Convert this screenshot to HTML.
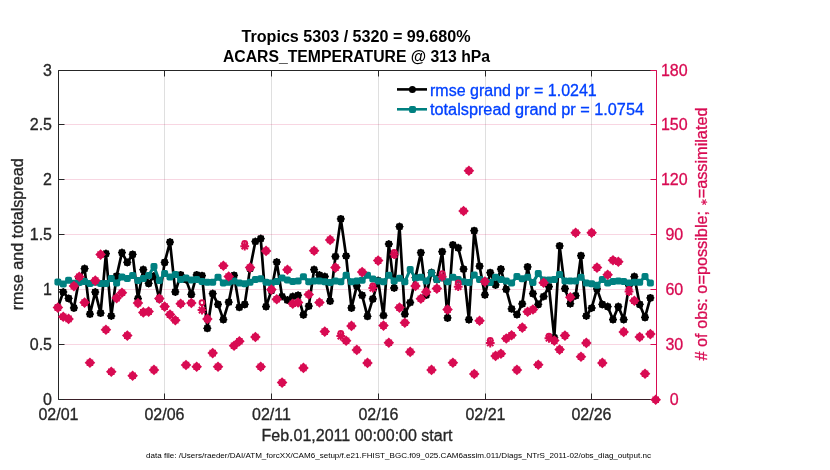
<!DOCTYPE html><html><head><meta charset="utf-8"><style>
html,body{margin:0;padding:0;background:#fff;width:830px;height:470px;overflow:hidden}
svg{display:block;will-change:transform}
text{font-family:"Liberation Sans",sans-serif}
</style></head><body>
<svg width="830" height="470" viewBox="0 0 830 470">
<rect width="830" height="470" fill="#fff"/>
<line x1="164.50" y1="70.5" x2="164.50" y2="399.5" stroke="rgba(38,38,38,0.15)" stroke-width="1"/><line x1="271.50" y1="70.5" x2="271.50" y2="399.5" stroke="rgba(38,38,38,0.15)" stroke-width="1"/><line x1="378.50" y1="70.5" x2="378.50" y2="399.5" stroke="rgba(38,38,38,0.15)" stroke-width="1"/><line x1="485.50" y1="70.5" x2="485.50" y2="399.5" stroke="rgba(38,38,38,0.15)" stroke-width="1"/><line x1="591.50" y1="70.5" x2="591.50" y2="399.5" stroke="rgba(38,38,38,0.15)" stroke-width="1"/><line x1="58.5" y1="344.50" x2="656.5" y2="344.50" stroke="rgba(216,11,82,0.17)" stroke-width="1"/><line x1="58.5" y1="289.50" x2="656.5" y2="289.50" stroke="rgba(216,11,82,0.17)" stroke-width="1"/><line x1="58.5" y1="234.50" x2="656.5" y2="234.50" stroke="rgba(216,11,82,0.17)" stroke-width="1"/><line x1="58.5" y1="179.50" x2="656.5" y2="179.50" stroke="rgba(216,11,82,0.17)" stroke-width="1"/><line x1="58.5" y1="124.50" x2="656.5" y2="124.50" stroke="rgba(216,11,82,0.17)" stroke-width="1"/>
<path d="M58.5 399.5 V70.5 H656.5" fill="none" stroke="#262626" stroke-width="1"/>
<line x1="58.5" y1="399.5" x2="656.5" y2="399.5" stroke="#3a1f28" stroke-width="1"/>
<line x1="656.5" y1="70.5" x2="656.5" y2="399.5" stroke="#d80b52" stroke-width="1"/>
<line x1="58.5" y1="399.50" x2="64.5" y2="399.50" stroke="#262626" stroke-width="1"/><line x1="650.5" y1="399.50" x2="656.5" y2="399.50" stroke="#d80b52" stroke-width="1"/><line x1="58.5" y1="344.50" x2="64.5" y2="344.50" stroke="#262626" stroke-width="1"/><line x1="650.5" y1="344.50" x2="656.5" y2="344.50" stroke="#d80b52" stroke-width="1"/><line x1="58.5" y1="289.50" x2="64.5" y2="289.50" stroke="#262626" stroke-width="1"/><line x1="650.5" y1="289.50" x2="656.5" y2="289.50" stroke="#d80b52" stroke-width="1"/><line x1="58.5" y1="234.50" x2="64.5" y2="234.50" stroke="#262626" stroke-width="1"/><line x1="650.5" y1="234.50" x2="656.5" y2="234.50" stroke="#d80b52" stroke-width="1"/><line x1="58.5" y1="179.50" x2="64.5" y2="179.50" stroke="#262626" stroke-width="1"/><line x1="650.5" y1="179.50" x2="656.5" y2="179.50" stroke="#d80b52" stroke-width="1"/><line x1="58.5" y1="124.50" x2="64.5" y2="124.50" stroke="#262626" stroke-width="1"/><line x1="650.5" y1="124.50" x2="656.5" y2="124.50" stroke="#d80b52" stroke-width="1"/><line x1="58.5" y1="70.50" x2="64.5" y2="70.50" stroke="#262626" stroke-width="1"/><line x1="650.5" y1="70.50" x2="656.5" y2="70.50" stroke="#d80b52" stroke-width="1"/><line x1="58.50" y1="399.5" x2="58.50" y2="393.5" stroke="#262626" stroke-width="1"/><line x1="58.50" y1="70.5" x2="58.50" y2="76.5" stroke="#262626" stroke-width="1"/><line x1="164.50" y1="399.5" x2="164.50" y2="393.5" stroke="#262626" stroke-width="1"/><line x1="164.50" y1="70.5" x2="164.50" y2="76.5" stroke="#262626" stroke-width="1"/><line x1="271.50" y1="399.5" x2="271.50" y2="393.5" stroke="#262626" stroke-width="1"/><line x1="271.50" y1="70.5" x2="271.50" y2="76.5" stroke="#262626" stroke-width="1"/><line x1="378.50" y1="399.5" x2="378.50" y2="393.5" stroke="#262626" stroke-width="1"/><line x1="378.50" y1="70.5" x2="378.50" y2="76.5" stroke="#262626" stroke-width="1"/><line x1="485.50" y1="399.5" x2="485.50" y2="393.5" stroke="#262626" stroke-width="1"/><line x1="485.50" y1="70.5" x2="485.50" y2="76.5" stroke="#262626" stroke-width="1"/><line x1="591.50" y1="399.5" x2="591.50" y2="393.5" stroke="#262626" stroke-width="1"/><line x1="591.50" y1="70.5" x2="591.50" y2="76.5" stroke="#262626" stroke-width="1"/>
<polyline points="57.90,307.60 63.24,292.00 68.58,298.40 73.91,307.90 79.25,278.60 84.59,268.60 89.93,314.10 95.26,292.10 100.60,313.10 105.94,253.60 111.28,316.00 116.61,276.10 121.95,252.60 127.29,262.40 132.62,254.40 137.96,298.60 143.30,269.60 148.64,283.40 153.97,276.10 159.31,299.10 164.65,262.40 169.99,242.10 175.33,291.90 180.66,274.90 186.00,279.60 191.34,294.40 196.68,274.90 202.01,275.70 207.35,328.30 212.69,293.60 218.03,304.40 223.36,319.60 228.70,302.20 234.04,275.40 239.38,307.30 244.71,304.40 250.05,268.60 255.39,241.50 260.73,238.60 266.06,306.60 271.40,290.60 276.74,262.00 282.07,296.50 287.41,300.10 292.75,296.50 298.09,295.30 303.43,314.80 308.76,306.10 314.10,269.60 319.44,275.00 324.77,276.50 330.11,301.10 335.45,256.50 340.79,218.90 346.12,256.00 351.46,307.90 356.80,285.90 362.14,295.30 367.48,316.30 372.81,298.90 378.15,280.60 383.49,315.50 388.82,244.00 394.16,288.00 399.50,226.60 404.84,314.10 410.18,302.50 415.51,277.60 420.85,252.70 426.19,295.10 431.52,272.60 436.86,279.60 442.20,251.70 447.54,317.90 452.88,244.90 458.21,247.80 463.55,269.10 468.89,319.70 474.23,230.70 479.56,266.20 484.90,294.80 490.24,272.70 495.57,284.90 500.91,269.10 506.25,289.30 511.59,308.80 516.93,314.60 522.26,303.80 527.60,266.90 532.94,293.60 538.28,304.40 543.61,296.50 548.95,286.60 554.29,337.70 559.62,245.90 564.96,288.60 570.30,303.70 575.64,295.70 580.98,255.70 586.31,316.00 591.65,308.00 596.99,288.90 602.33,304.40 607.66,306.60 613.00,319.60 618.34,306.60 623.68,319.60 629.01,285.60 634.35,276.60 639.69,304.40 645.02,317.40 650.36,297.90" fill="none" stroke="#000" stroke-width="2.7" stroke-linejoin="round"/>
<g fill="#000"><circle cx="57.90" cy="307.60" r="3.6"/><circle cx="63.24" cy="292.00" r="3.6"/><circle cx="68.58" cy="298.40" r="3.6"/><circle cx="73.91" cy="307.90" r="3.6"/><circle cx="79.25" cy="278.60" r="3.6"/><circle cx="84.59" cy="268.60" r="3.6"/><circle cx="89.93" cy="314.10" r="3.6"/><circle cx="95.26" cy="292.10" r="3.6"/><circle cx="100.60" cy="313.10" r="3.6"/><circle cx="105.94" cy="253.60" r="3.6"/><circle cx="111.28" cy="316.00" r="3.6"/><circle cx="116.61" cy="276.10" r="3.6"/><circle cx="121.95" cy="252.60" r="3.6"/><circle cx="127.29" cy="262.40" r="3.6"/><circle cx="132.62" cy="254.40" r="3.6"/><circle cx="137.96" cy="298.60" r="3.6"/><circle cx="143.30" cy="269.60" r="3.6"/><circle cx="148.64" cy="283.40" r="3.6"/><circle cx="153.97" cy="276.10" r="3.6"/><circle cx="159.31" cy="299.10" r="3.6"/><circle cx="164.65" cy="262.40" r="3.6"/><circle cx="169.99" cy="242.10" r="3.6"/><circle cx="175.33" cy="291.90" r="3.6"/><circle cx="180.66" cy="274.90" r="3.6"/><circle cx="186.00" cy="279.60" r="3.6"/><circle cx="191.34" cy="294.40" r="3.6"/><circle cx="196.68" cy="274.90" r="3.6"/><circle cx="202.01" cy="275.70" r="3.6"/><circle cx="207.35" cy="328.30" r="3.6"/><circle cx="212.69" cy="293.60" r="3.6"/><circle cx="218.03" cy="304.40" r="3.6"/><circle cx="223.36" cy="319.60" r="3.6"/><circle cx="228.70" cy="302.20" r="3.6"/><circle cx="234.04" cy="275.40" r="3.6"/><circle cx="239.38" cy="307.30" r="3.6"/><circle cx="244.71" cy="304.40" r="3.6"/><circle cx="250.05" cy="268.60" r="3.6"/><circle cx="255.39" cy="241.50" r="3.6"/><circle cx="260.73" cy="238.60" r="3.6"/><circle cx="266.06" cy="306.60" r="3.6"/><circle cx="271.40" cy="290.60" r="3.6"/><circle cx="276.74" cy="262.00" r="3.6"/><circle cx="282.07" cy="296.50" r="3.6"/><circle cx="287.41" cy="300.10" r="3.6"/><circle cx="292.75" cy="296.50" r="3.6"/><circle cx="298.09" cy="295.30" r="3.6"/><circle cx="303.43" cy="314.80" r="3.6"/><circle cx="308.76" cy="306.10" r="3.6"/><circle cx="314.10" cy="269.60" r="3.6"/><circle cx="319.44" cy="275.00" r="3.6"/><circle cx="324.77" cy="276.50" r="3.6"/><circle cx="330.11" cy="301.10" r="3.6"/><circle cx="335.45" cy="256.50" r="3.6"/><circle cx="340.79" cy="218.90" r="3.6"/><circle cx="346.12" cy="256.00" r="3.6"/><circle cx="351.46" cy="307.90" r="3.6"/><circle cx="356.80" cy="285.90" r="3.6"/><circle cx="362.14" cy="295.30" r="3.6"/><circle cx="367.48" cy="316.30" r="3.6"/><circle cx="372.81" cy="298.90" r="3.6"/><circle cx="378.15" cy="280.60" r="3.6"/><circle cx="383.49" cy="315.50" r="3.6"/><circle cx="388.82" cy="244.00" r="3.6"/><circle cx="394.16" cy="288.00" r="3.6"/><circle cx="399.50" cy="226.60" r="3.6"/><circle cx="404.84" cy="314.10" r="3.6"/><circle cx="410.18" cy="302.50" r="3.6"/><circle cx="415.51" cy="277.60" r="3.6"/><circle cx="420.85" cy="252.70" r="3.6"/><circle cx="426.19" cy="295.10" r="3.6"/><circle cx="431.52" cy="272.60" r="3.6"/><circle cx="436.86" cy="279.60" r="3.6"/><circle cx="442.20" cy="251.70" r="3.6"/><circle cx="447.54" cy="317.90" r="3.6"/><circle cx="452.88" cy="244.90" r="3.6"/><circle cx="458.21" cy="247.80" r="3.6"/><circle cx="463.55" cy="269.10" r="3.6"/><circle cx="468.89" cy="319.70" r="3.6"/><circle cx="474.23" cy="230.70" r="3.6"/><circle cx="479.56" cy="266.20" r="3.6"/><circle cx="484.90" cy="294.80" r="3.6"/><circle cx="490.24" cy="272.70" r="3.6"/><circle cx="495.57" cy="284.90" r="3.6"/><circle cx="500.91" cy="269.10" r="3.6"/><circle cx="506.25" cy="289.30" r="3.6"/><circle cx="511.59" cy="308.80" r="3.6"/><circle cx="516.93" cy="314.60" r="3.6"/><circle cx="522.26" cy="303.80" r="3.6"/><circle cx="527.60" cy="266.90" r="3.6"/><circle cx="532.94" cy="293.60" r="3.6"/><circle cx="538.28" cy="304.40" r="3.6"/><circle cx="543.61" cy="296.50" r="3.6"/><circle cx="548.95" cy="286.60" r="3.6"/><circle cx="554.29" cy="337.70" r="3.6"/><circle cx="559.62" cy="245.90" r="3.6"/><circle cx="564.96" cy="288.60" r="3.6"/><circle cx="570.30" cy="303.70" r="3.6"/><circle cx="575.64" cy="295.70" r="3.6"/><circle cx="580.98" cy="255.70" r="3.6"/><circle cx="586.31" cy="316.00" r="3.6"/><circle cx="591.65" cy="308.00" r="3.6"/><circle cx="596.99" cy="288.90" r="3.6"/><circle cx="602.33" cy="304.40" r="3.6"/><circle cx="607.66" cy="306.60" r="3.6"/><circle cx="613.00" cy="319.60" r="3.6"/><circle cx="618.34" cy="306.60" r="3.6"/><circle cx="623.68" cy="319.60" r="3.6"/><circle cx="629.01" cy="285.60" r="3.6"/><circle cx="634.35" cy="276.60" r="3.6"/><circle cx="639.69" cy="304.40" r="3.6"/><circle cx="645.02" cy="317.40" r="3.6"/><circle cx="650.36" cy="297.90" r="3.6"/></g>
<path fill="none" stroke="#000" stroke-width="1.3" d="M53.90 307.60H61.90M57.90 303.60V311.60M55.00 304.70L60.80 310.50M55.00 310.50L60.80 304.70M59.24 292.00H67.24M63.24 288.00V296.00M60.34 289.10L66.14 294.90M60.34 294.90L66.14 289.10M64.58 298.40H72.58M68.58 294.40V302.40M65.67 295.50L71.48 301.30M65.67 301.30L71.48 295.50M69.91 307.90H77.91M73.91 303.90V311.90M71.01 305.00L76.81 310.80M71.01 310.80L76.81 305.00M75.25 278.60H83.25M79.25 274.60V282.60M76.35 275.70L82.15 281.50M76.35 281.50L82.15 275.70M80.59 268.60H88.59M84.59 264.60V272.60M81.69 265.70L87.49 271.50M81.69 271.50L87.49 265.70M85.93 314.10H93.93M89.93 310.10V318.10M87.03 311.20L92.83 317.00M87.03 317.00L92.83 311.20M91.26 292.10H99.26M95.26 288.10V296.10M92.36 289.20L98.16 295.00M92.36 295.00L98.16 289.20M96.60 313.10H104.60M100.60 309.10V317.10M97.70 310.20L103.50 316.00M97.70 316.00L103.50 310.20M101.94 253.60H109.94M105.94 249.60V257.60M103.04 250.70L108.84 256.50M103.04 256.50L108.84 250.70M107.28 316.00H115.28M111.28 312.00V320.00M108.38 313.10L114.18 318.90M108.38 318.90L114.18 313.10M112.61 276.10H120.61M116.61 272.10V280.10M113.71 273.20L119.51 279.00M113.71 279.00L119.51 273.20M117.95 252.60H125.95M121.95 248.60V256.60M119.05 249.70L124.85 255.50M119.05 255.50L124.85 249.70M123.29 262.40H131.29M127.29 258.40V266.40M124.39 259.50L130.19 265.30M124.39 265.30L130.19 259.50M128.62 254.40H136.62M132.62 250.40V258.40M129.72 251.50L135.53 257.30M129.72 257.30L135.53 251.50M133.96 298.60H141.96M137.96 294.60V302.60M135.06 295.70L140.86 301.50M135.06 301.50L140.86 295.70M139.30 269.60H147.30M143.30 265.60V273.60M140.40 266.70L146.20 272.50M140.40 272.50L146.20 266.70M144.64 283.40H152.64M148.64 279.40V287.40M145.74 280.50L151.54 286.30M145.74 286.30L151.54 280.50M149.97 276.10H157.97M153.97 272.10V280.10M151.07 273.20L156.88 279.00M151.07 279.00L156.88 273.20M155.31 299.10H163.31M159.31 295.10V303.10M156.41 296.20L162.21 302.00M156.41 302.00L162.21 296.20M160.65 262.40H168.65M164.65 258.40V266.40M161.75 259.50L167.55 265.30M161.75 265.30L167.55 259.50M165.99 242.10H173.99M169.99 238.10V246.10M167.09 239.20L172.89 245.00M167.09 245.00L172.89 239.20M171.33 291.90H179.33M175.33 287.90V295.90M172.43 289.00L178.23 294.80M172.43 294.80L178.23 289.00M176.66 274.90H184.66M180.66 270.90V278.90M177.76 272.00L183.56 277.80M177.76 277.80L183.56 272.00M182.00 279.60H190.00M186.00 275.60V283.60M183.10 276.70L188.90 282.50M183.10 282.50L188.90 276.70M187.34 294.40H195.34M191.34 290.40V298.40M188.44 291.50L194.24 297.30M188.44 297.30L194.24 291.50M192.68 274.90H200.68M196.68 270.90V278.90M193.78 272.00L199.58 277.80M193.78 277.80L199.58 272.00M198.01 275.70H206.01M202.01 271.70V279.70M199.11 272.80L204.91 278.60M199.11 278.60L204.91 272.80M203.35 328.30H211.35M207.35 324.30V332.30M204.45 325.40L210.25 331.20M204.45 331.20L210.25 325.40M208.69 293.60H216.69M212.69 289.60V297.60M209.79 290.70L215.59 296.50M209.79 296.50L215.59 290.70M214.03 304.40H222.03M218.03 300.40V308.40M215.12 301.50L220.93 307.30M215.12 307.30L220.93 301.50M219.36 319.60H227.36M223.36 315.60V323.60M220.46 316.70L226.26 322.50M220.46 322.50L226.26 316.70M224.70 302.20H232.70M228.70 298.20V306.20M225.80 299.30L231.60 305.10M225.80 305.10L231.60 299.30M230.04 275.40H238.04M234.04 271.40V279.40M231.14 272.50L236.94 278.30M231.14 278.30L236.94 272.50M235.38 307.30H243.38M239.38 303.30V311.30M236.48 304.40L242.28 310.20M236.48 310.20L242.28 304.40M240.71 304.40H248.71M244.71 300.40V308.40M241.81 301.50L247.61 307.30M241.81 307.30L247.61 301.50M246.05 268.60H254.05M250.05 264.60V272.60M247.15 265.70L252.95 271.50M247.15 271.50L252.95 265.70M251.39 241.50H259.39M255.39 237.50V245.50M252.49 238.60L258.29 244.40M252.49 244.40L258.29 238.60M256.73 238.60H264.73M260.73 234.60V242.60M257.83 235.70L263.62 241.50M257.83 241.50L263.62 235.70M262.06 306.60H270.06M266.06 302.60V310.60M263.16 303.70L268.96 309.50M263.16 309.50L268.96 303.70M267.40 290.60H275.40M271.40 286.60V294.60M268.50 287.70L274.30 293.50M268.50 293.50L274.30 287.70M272.74 262.00H280.74M276.74 258.00V266.00M273.84 259.10L279.64 264.90M273.84 264.90L279.64 259.10M278.07 296.50H286.07M282.07 292.50V300.50M279.18 293.60L284.97 299.40M279.18 299.40L284.97 293.60M283.41 300.10H291.41M287.41 296.10V304.10M284.51 297.20L290.31 303.00M284.51 303.00L290.31 297.20M288.75 296.50H296.75M292.75 292.50V300.50M289.85 293.60L295.65 299.40M289.85 299.40L295.65 293.60M294.09 295.30H302.09M298.09 291.30V299.30M295.19 292.40L300.99 298.20M295.19 298.20L300.99 292.40M299.43 314.80H307.43M303.43 310.80V318.80M300.53 311.90L306.32 317.70M300.53 317.70L306.32 311.90M304.76 306.10H312.76M308.76 302.10V310.10M305.86 303.20L311.66 309.00M305.86 309.00L311.66 303.20M310.10 269.60H318.10M314.10 265.60V273.60M311.20 266.70L317.00 272.50M311.20 272.50L317.00 266.70M315.44 275.00H323.44M319.44 271.00V279.00M316.54 272.10L322.34 277.90M316.54 277.90L322.34 272.10M320.77 276.50H328.77M324.77 272.50V280.50M321.88 273.60L327.67 279.40M321.88 279.40L327.67 273.60M326.11 301.10H334.11M330.11 297.10V305.10M327.21 298.20L333.01 304.00M327.21 304.00L333.01 298.20M331.45 256.50H339.45M335.45 252.50V260.50M332.55 253.60L338.35 259.40M332.55 259.40L338.35 253.60M336.79 218.90H344.79M340.79 214.90V222.90M337.89 216.00L343.69 221.80M337.89 221.80L343.69 216.00M342.12 256.00H350.12M346.12 252.00V260.00M343.23 253.10L349.02 258.90M343.23 258.90L349.02 253.10M347.46 307.90H355.46M351.46 303.90V311.90M348.56 305.00L354.36 310.80M348.56 310.80L354.36 305.00M352.80 285.90H360.80M356.80 281.90V289.90M353.90 283.00L359.70 288.80M353.90 288.80L359.70 283.00M358.14 295.30H366.14M362.14 291.30V299.30M359.24 292.40L365.04 298.20M359.24 298.20L365.04 292.40M363.48 316.30H371.48M367.48 312.30V320.30M364.58 313.40L370.38 319.20M364.58 319.20L370.38 313.40M368.81 298.90H376.81M372.81 294.90V302.90M369.91 296.00L375.71 301.80M369.91 301.80L375.71 296.00M374.15 280.60H382.15M378.15 276.60V284.60M375.25 277.70L381.05 283.50M375.25 283.50L381.05 277.70M379.49 315.50H387.49M383.49 311.50V319.50M380.59 312.60L386.39 318.40M380.59 318.40L386.39 312.60M384.82 244.00H392.82M388.82 240.00V248.00M385.93 241.10L391.72 246.90M385.93 246.90L391.72 241.10M390.16 288.00H398.16M394.16 284.00V292.00M391.26 285.10L397.06 290.90M391.26 290.90L397.06 285.10M395.50 226.60H403.50M399.50 222.60V230.60M396.60 223.70L402.40 229.50M396.60 229.50L402.40 223.70M400.84 314.10H408.84M404.84 310.10V318.10M401.94 311.20L407.74 317.00M401.94 317.00L407.74 311.20M406.18 302.50H414.18M410.18 298.50V306.50M407.28 299.60L413.07 305.40M407.28 305.40L413.07 299.60M411.51 277.60H419.51M415.51 273.60V281.60M412.61 274.70L418.41 280.50M412.61 280.50L418.41 274.70M416.85 252.70H424.85M420.85 248.70V256.70M417.95 249.80L423.75 255.60M417.95 255.60L423.75 249.80M422.19 295.10H430.19M426.19 291.10V299.10M423.29 292.20L429.09 298.00M423.29 298.00L429.09 292.20M427.52 272.60H435.52M431.52 268.60V276.60M428.62 269.70L434.42 275.50M428.62 275.50L434.42 269.70M432.86 279.60H440.86M436.86 275.60V283.60M433.96 276.70L439.76 282.50M433.96 282.50L439.76 276.70M438.20 251.70H446.20M442.20 247.70V255.70M439.30 248.80L445.10 254.60M439.30 254.60L445.10 248.80M443.54 317.90H451.54M447.54 313.90V321.90M444.64 315.00L450.44 320.80M444.64 320.80L450.44 315.00M448.88 244.90H456.88M452.88 240.90V248.90M449.98 242.00L455.77 247.80M449.98 247.80L455.77 242.00M454.21 247.80H462.21M458.21 243.80V251.80M455.31 244.90L461.11 250.70M455.31 250.70L461.11 244.90M459.55 269.10H467.55M463.55 265.10V273.10M460.65 266.20L466.45 272.00M460.65 272.00L466.45 266.20M464.89 319.70H472.89M468.89 315.70V323.70M465.99 316.80L471.79 322.60M465.99 322.60L471.79 316.80M470.23 230.70H478.23M474.23 226.70V234.70M471.33 227.80L477.12 233.60M471.33 233.60L477.12 227.80M475.56 266.20H483.56M479.56 262.20V270.20M476.66 263.30L482.46 269.10M476.66 269.10L482.46 263.30M480.90 294.80H488.90M484.90 290.80V298.80M482.00 291.90L487.80 297.70M482.00 297.70L487.80 291.90M486.24 272.70H494.24M490.24 268.70V276.70M487.34 269.80L493.14 275.60M487.34 275.60L493.14 269.80M491.57 284.90H499.57M495.57 280.90V288.90M492.68 282.00L498.47 287.80M492.68 287.80L498.47 282.00M496.91 269.10H504.91M500.91 265.10V273.10M498.01 266.20L503.81 272.00M498.01 272.00L503.81 266.20M502.25 289.30H510.25M506.25 285.30V293.30M503.35 286.40L509.15 292.20M503.35 292.20L509.15 286.40M507.59 308.80H515.59M511.59 304.80V312.80M508.69 305.90L514.49 311.70M508.69 311.70L514.49 305.90M512.93 314.60H520.93M516.93 310.60V318.60M514.03 311.70L519.83 317.50M514.03 317.50L519.83 311.70M518.26 303.80H526.26M522.26 299.80V307.80M519.36 300.90L525.16 306.70M519.36 306.70L525.16 300.90M523.60 266.90H531.60M527.60 262.90V270.90M524.70 264.00L530.50 269.80M524.70 269.80L530.50 264.00M528.94 293.60H536.94M532.94 289.60V297.60M530.04 290.70L535.84 296.50M530.04 296.50L535.84 290.70M534.28 304.40H542.28M538.28 300.40V308.40M535.38 301.50L541.18 307.30M535.38 307.30L541.18 301.50M539.61 296.50H547.61M543.61 292.50V300.50M540.71 293.60L546.51 299.40M540.71 299.40L546.51 293.60M544.95 286.60H552.95M548.95 282.60V290.60M546.05 283.70L551.85 289.50M546.05 289.50L551.85 283.70M550.29 337.70H558.29M554.29 333.70V341.70M551.39 334.80L557.19 340.60M551.39 340.60L557.19 334.80M555.62 245.90H563.62M559.62 241.90V249.90M556.73 243.00L562.52 248.80M556.73 248.80L562.52 243.00M560.96 288.60H568.96M564.96 284.60V292.60M562.06 285.70L567.86 291.50M562.06 291.50L567.86 285.70M566.30 303.70H574.30M570.30 299.70V307.70M567.40 300.80L573.20 306.60M567.40 306.60L573.20 300.80M571.64 295.70H579.64M575.64 291.70V299.70M572.74 292.80L578.54 298.60M572.74 298.60L578.54 292.80M576.98 255.70H584.98M580.98 251.70V259.70M578.08 252.80L583.88 258.60M578.08 258.60L583.88 252.80M582.31 316.00H590.31M586.31 312.00V320.00M583.41 313.10L589.21 318.90M583.41 318.90L589.21 313.10M587.65 308.00H595.65M591.65 304.00V312.00M588.75 305.10L594.55 310.90M588.75 310.90L594.55 305.10M592.99 288.90H600.99M596.99 284.90V292.90M594.09 286.00L599.89 291.80M594.09 291.80L599.89 286.00M598.33 304.40H606.33M602.33 300.40V308.40M599.43 301.50L605.23 307.30M599.43 307.30L605.23 301.50M603.66 306.60H611.66M607.66 302.60V310.60M604.76 303.70L610.56 309.50M604.76 309.50L610.56 303.70M609.00 319.60H617.00M613.00 315.60V323.60M610.10 316.70L615.90 322.50M610.10 322.50L615.90 316.70M614.34 306.60H622.34M618.34 302.60V310.60M615.44 303.70L621.24 309.50M615.44 309.50L621.24 303.70M619.68 319.60H627.68M623.68 315.60V323.60M620.78 316.70L626.58 322.50M620.78 322.50L626.58 316.70M625.01 285.60H633.01M629.01 281.60V289.60M626.11 282.70L631.91 288.50M626.11 288.50L631.91 282.70M630.35 276.60H638.35M634.35 272.60V280.60M631.45 273.70L637.25 279.50M631.45 279.50L637.25 273.70M635.69 304.40H643.69M639.69 300.40V308.40M636.79 301.50L642.59 307.30M636.79 307.30L642.59 301.50M641.02 317.40H649.02M645.02 313.40V321.40M642.12 314.50L647.92 320.30M642.12 320.30L647.92 314.50M646.36 297.90H654.36M650.36 293.90V301.90M647.46 295.00L653.26 300.80M647.46 300.80L653.26 295.00"/>
<polyline points="57.90,282.00 63.24,284.00 68.58,280.30 73.91,283.30 79.25,282.60 84.59,281.40 89.93,283.60 95.26,282.20 100.60,283.60 105.94,283.60 111.28,278.60 116.61,282.90 121.95,277.10 127.29,278.60 132.62,275.60 137.96,280.60 143.30,278.60 148.64,275.60 153.97,266.60 159.31,280.60 164.65,273.60 169.99,277.10 175.33,274.60 180.66,279.40 186.00,278.00 191.34,280.10 196.68,279.40 202.01,281.60 207.35,282.30 212.69,282.30 218.03,277.30 223.36,283.00 228.70,282.30 234.04,280.90 239.38,283.00 244.71,283.80 250.05,282.30 255.39,279.40 260.73,278.70 266.06,282.30 271.40,283.00 276.74,281.60 282.07,278.00 287.41,280.10 292.75,281.60 298.09,281.10 303.43,276.70 308.76,281.80 314.10,281.10 319.44,281.10 324.77,281.80 330.11,282.50 335.45,281.10 340.79,281.80 346.12,275.30 351.46,281.80 356.80,281.10 362.14,280.30 367.48,275.30 372.81,278.90 378.15,281.10 383.49,281.80 388.82,275.30 394.16,281.10 399.50,278.20 404.84,281.80 410.18,269.50 415.51,278.10 420.85,277.30 426.19,280.90 431.52,273.00 436.86,279.50 442.20,278.00 447.54,281.70 452.88,277.30 458.21,279.50 463.55,281.70 468.89,282.40 474.23,275.10 479.56,279.50 484.90,280.90 490.24,282.40 495.57,277.30 500.91,279.50 506.25,280.90 511.59,283.10 516.93,276.60 522.26,278.80 527.60,277.30 532.94,282.40 538.28,273.60 543.61,280.10 548.95,280.10 554.29,279.40 559.62,274.40 564.96,280.90 570.30,280.90 575.64,280.90 580.98,277.30 586.31,283.00 591.65,283.80 596.99,285.20 602.33,279.40 607.66,283.00 613.00,281.60 618.34,280.90 623.68,281.60 629.01,283.00 634.35,282.30 639.69,282.30 645.02,276.60 650.36,283.00" fill="none" stroke="#008080" stroke-width="3" stroke-linejoin="round"/>
<g fill="#008080"><rect x="54.40" y="278.50" width="7" height="7" rx="2"/><rect x="59.74" y="280.50" width="7" height="7" rx="2"/><rect x="65.08" y="276.80" width="7" height="7" rx="2"/><rect x="70.41" y="279.80" width="7" height="7" rx="2"/><rect x="75.75" y="279.10" width="7" height="7" rx="2"/><rect x="81.09" y="277.90" width="7" height="7" rx="2"/><rect x="86.43" y="280.10" width="7" height="7" rx="2"/><rect x="91.76" y="278.70" width="7" height="7" rx="2"/><rect x="97.10" y="280.10" width="7" height="7" rx="2"/><rect x="102.44" y="280.10" width="7" height="7" rx="2"/><rect x="107.78" y="275.10" width="7" height="7" rx="2"/><rect x="113.11" y="279.40" width="7" height="7" rx="2"/><rect x="118.45" y="273.60" width="7" height="7" rx="2"/><rect x="123.79" y="275.10" width="7" height="7" rx="2"/><rect x="129.12" y="272.10" width="7" height="7" rx="2"/><rect x="134.46" y="277.10" width="7" height="7" rx="2"/><rect x="139.80" y="275.10" width="7" height="7" rx="2"/><rect x="145.14" y="272.10" width="7" height="7" rx="2"/><rect x="150.47" y="263.10" width="7" height="7" rx="2"/><rect x="155.81" y="277.10" width="7" height="7" rx="2"/><rect x="161.15" y="270.10" width="7" height="7" rx="2"/><rect x="166.49" y="273.60" width="7" height="7" rx="2"/><rect x="171.83" y="271.10" width="7" height="7" rx="2"/><rect x="177.16" y="275.90" width="7" height="7" rx="2"/><rect x="182.50" y="274.50" width="7" height="7" rx="2"/><rect x="187.84" y="276.60" width="7" height="7" rx="2"/><rect x="193.18" y="275.90" width="7" height="7" rx="2"/><rect x="198.51" y="278.10" width="7" height="7" rx="2"/><rect x="203.85" y="278.80" width="7" height="7" rx="2"/><rect x="209.19" y="278.80" width="7" height="7" rx="2"/><rect x="214.53" y="273.80" width="7" height="7" rx="2"/><rect x="219.86" y="279.50" width="7" height="7" rx="2"/><rect x="225.20" y="278.80" width="7" height="7" rx="2"/><rect x="230.54" y="277.40" width="7" height="7" rx="2"/><rect x="235.88" y="279.50" width="7" height="7" rx="2"/><rect x="241.21" y="280.30" width="7" height="7" rx="2"/><rect x="246.55" y="278.80" width="7" height="7" rx="2"/><rect x="251.89" y="275.90" width="7" height="7" rx="2"/><rect x="257.23" y="275.20" width="7" height="7" rx="2"/><rect x="262.56" y="278.80" width="7" height="7" rx="2"/><rect x="267.90" y="279.50" width="7" height="7" rx="2"/><rect x="273.24" y="278.10" width="7" height="7" rx="2"/><rect x="278.57" y="274.50" width="7" height="7" rx="2"/><rect x="283.91" y="276.60" width="7" height="7" rx="2"/><rect x="289.25" y="278.10" width="7" height="7" rx="2"/><rect x="294.59" y="277.60" width="7" height="7" rx="2"/><rect x="299.93" y="273.20" width="7" height="7" rx="2"/><rect x="305.26" y="278.30" width="7" height="7" rx="2"/><rect x="310.60" y="277.60" width="7" height="7" rx="2"/><rect x="315.94" y="277.60" width="7" height="7" rx="2"/><rect x="321.27" y="278.30" width="7" height="7" rx="2"/><rect x="326.61" y="279.00" width="7" height="7" rx="2"/><rect x="331.95" y="277.60" width="7" height="7" rx="2"/><rect x="337.29" y="278.30" width="7" height="7" rx="2"/><rect x="342.62" y="271.80" width="7" height="7" rx="2"/><rect x="347.96" y="278.30" width="7" height="7" rx="2"/><rect x="353.30" y="277.60" width="7" height="7" rx="2"/><rect x="358.64" y="276.80" width="7" height="7" rx="2"/><rect x="363.98" y="271.80" width="7" height="7" rx="2"/><rect x="369.31" y="275.40" width="7" height="7" rx="2"/><rect x="374.65" y="277.60" width="7" height="7" rx="2"/><rect x="379.99" y="278.30" width="7" height="7" rx="2"/><rect x="385.32" y="271.80" width="7" height="7" rx="2"/><rect x="390.66" y="277.60" width="7" height="7" rx="2"/><rect x="396.00" y="274.70" width="7" height="7" rx="2"/><rect x="401.34" y="278.30" width="7" height="7" rx="2"/><rect x="406.68" y="266.00" width="7" height="7" rx="2"/><rect x="412.01" y="274.60" width="7" height="7" rx="2"/><rect x="417.35" y="273.80" width="7" height="7" rx="2"/><rect x="422.69" y="277.40" width="7" height="7" rx="2"/><rect x="428.02" y="269.50" width="7" height="7" rx="2"/><rect x="433.36" y="276.00" width="7" height="7" rx="2"/><rect x="438.70" y="274.50" width="7" height="7" rx="2"/><rect x="444.04" y="278.20" width="7" height="7" rx="2"/><rect x="449.38" y="273.80" width="7" height="7" rx="2"/><rect x="454.71" y="276.00" width="7" height="7" rx="2"/><rect x="460.05" y="278.20" width="7" height="7" rx="2"/><rect x="465.39" y="278.90" width="7" height="7" rx="2"/><rect x="470.73" y="271.60" width="7" height="7" rx="2"/><rect x="476.06" y="276.00" width="7" height="7" rx="2"/><rect x="481.40" y="277.40" width="7" height="7" rx="2"/><rect x="486.74" y="278.90" width="7" height="7" rx="2"/><rect x="492.07" y="273.80" width="7" height="7" rx="2"/><rect x="497.41" y="276.00" width="7" height="7" rx="2"/><rect x="502.75" y="277.40" width="7" height="7" rx="2"/><rect x="508.09" y="279.60" width="7" height="7" rx="2"/><rect x="513.43" y="273.10" width="7" height="7" rx="2"/><rect x="518.76" y="275.30" width="7" height="7" rx="2"/><rect x="524.10" y="273.80" width="7" height="7" rx="2"/><rect x="529.44" y="278.90" width="7" height="7" rx="2"/><rect x="534.78" y="270.10" width="7" height="7" rx="2"/><rect x="540.11" y="276.60" width="7" height="7" rx="2"/><rect x="545.45" y="276.60" width="7" height="7" rx="2"/><rect x="550.79" y="275.90" width="7" height="7" rx="2"/><rect x="556.12" y="270.90" width="7" height="7" rx="2"/><rect x="561.46" y="277.40" width="7" height="7" rx="2"/><rect x="566.80" y="277.40" width="7" height="7" rx="2"/><rect x="572.14" y="277.40" width="7" height="7" rx="2"/><rect x="577.48" y="273.80" width="7" height="7" rx="2"/><rect x="582.81" y="279.50" width="7" height="7" rx="2"/><rect x="588.15" y="280.30" width="7" height="7" rx="2"/><rect x="593.49" y="281.70" width="7" height="7" rx="2"/><rect x="598.83" y="275.90" width="7" height="7" rx="2"/><rect x="604.16" y="279.50" width="7" height="7" rx="2"/><rect x="609.50" y="278.10" width="7" height="7" rx="2"/><rect x="614.84" y="277.40" width="7" height="7" rx="2"/><rect x="620.18" y="278.10" width="7" height="7" rx="2"/><rect x="625.51" y="279.50" width="7" height="7" rx="2"/><rect x="630.85" y="278.80" width="7" height="7" rx="2"/><rect x="636.19" y="278.80" width="7" height="7" rx="2"/><rect x="641.52" y="273.10" width="7" height="7" rx="2"/><rect x="646.86" y="279.50" width="7" height="7" rx="2"/></g>
<g fill="#d80b52"><path d="M57.90 302.30L59.90 304.30L61.20 304.30L61.20 305.60L63.20 307.60L61.20 309.60L61.20 310.90L59.90 310.90L57.90 312.90L55.90 310.90L54.60 310.90L54.60 309.60L52.60 307.60L54.60 305.60L54.60 304.30L55.90 304.30Z"/><path d="M63.24 311.40L65.24 313.40L66.54 313.40L66.54 314.70L68.54 316.70L66.54 318.70L66.54 320.00L65.24 320.00L63.24 322.00L61.24 320.00L59.94 320.00L59.94 318.70L57.94 316.70L59.94 314.70L59.94 313.40L61.24 313.40Z"/><path d="M68.58 313.60L70.58 315.60L71.88 315.60L71.88 316.90L73.88 318.90L71.88 320.90L71.88 322.20L70.58 322.20L68.58 324.20L66.58 322.20L65.28 322.20L65.28 320.90L63.28 318.90L65.28 316.90L65.28 315.60L66.58 315.60Z"/><path d="M73.91 280.80L75.91 282.80L77.21 282.80L77.21 284.10L79.21 286.10L77.21 288.10L77.21 289.40L75.91 289.40L73.91 291.40L71.91 289.40L70.61 289.40L70.61 288.10L68.61 286.10L70.61 284.10L70.61 282.80L71.91 282.80Z"/><path d="M79.25 271.50L81.25 273.50L82.55 273.50L82.55 274.80L84.55 276.80L82.55 278.80L82.55 280.10L81.25 280.10L79.25 282.10L77.25 280.10L75.95 280.10L75.95 278.80L73.95 276.80L75.95 274.80L75.95 273.50L77.25 273.50Z"/><path d="M84.59 297.30L86.59 299.30L87.89 299.30L87.89 300.60L89.89 302.60L87.89 304.60L87.89 305.90L86.59 305.90L84.59 307.90L82.59 305.90L81.29 305.90L81.29 304.60L79.29 302.60L81.29 300.60L81.29 299.30L82.59 299.30Z"/><path d="M89.93 357.50L91.93 359.50L93.23 359.50L93.23 360.80L95.23 362.80L93.23 364.80L93.23 366.10L91.93 366.10L89.93 368.10L87.93 366.10L86.63 366.10L86.63 364.80L84.63 362.80L86.63 360.80L86.63 359.50L87.93 359.50Z"/><path d="M95.26 275.30L97.26 277.30L98.56 277.30L98.56 278.60L100.56 280.60L98.56 282.60L98.56 283.90L97.26 283.90L95.26 285.90L93.26 283.90L91.96 283.90L91.96 282.60L89.96 280.60L91.96 278.60L91.96 277.30L93.26 277.30Z"/><path d="M100.60 249.30L102.60 251.30L103.90 251.30L103.90 252.60L105.90 254.60L103.90 256.60L103.90 257.90L102.60 257.90L100.60 259.90L98.60 257.90L97.30 257.90L97.30 256.60L95.30 254.60L97.30 252.60L97.30 251.30L98.60 251.30Z"/><path d="M105.94 324.40L107.94 326.40L109.24 326.40L109.24 327.70L111.24 329.70L109.24 331.70L109.24 333.00L107.94 333.00L105.94 335.00L103.94 333.00L102.64 333.00L102.64 331.70L100.64 329.70L102.64 327.70L102.64 326.40L103.94 326.40Z"/><path d="M111.28 366.50L113.28 368.50L114.58 368.50L114.58 369.80L116.58 371.80L114.58 373.80L114.58 375.10L113.28 375.10L111.28 377.10L109.28 375.10L107.98 375.10L107.98 373.80L105.98 371.80L107.98 369.80L107.98 368.50L109.28 368.50Z"/><path d="M116.61 292.80L118.61 294.80L119.91 294.80L119.91 296.10L121.91 298.10L119.91 300.10L119.91 301.40L118.61 301.40L116.61 303.40L114.61 301.40L113.31 301.40L113.31 300.10L111.31 298.10L113.31 296.10L113.31 294.80L114.61 294.80Z"/><path d="M121.95 287.50L123.95 289.50L125.25 289.50L125.25 290.80L127.25 292.80L125.25 294.80L125.25 296.10L123.95 296.10L121.95 298.10L119.95 296.10L118.65 296.10L118.65 294.80L116.65 292.80L118.65 290.80L118.65 289.50L119.95 289.50Z"/><path d="M127.29 330.30L129.29 332.30L130.59 332.30L130.59 333.60L132.59 335.60L130.59 337.60L130.59 338.90L129.29 338.90L127.29 340.90L125.29 338.90L123.99 338.90L123.99 337.60L121.99 335.60L123.99 333.60L123.99 332.30L125.29 332.30Z"/><path d="M132.62 370.50L134.62 372.50L135.93 372.50L135.93 373.80L137.93 375.80L135.93 377.80L135.93 379.10L134.62 379.10L132.62 381.10L130.62 379.10L129.32 379.10L129.32 377.80L127.33 375.80L129.32 373.80L129.32 372.50L130.62 372.50Z"/><path d="M137.96 297.80L139.96 299.80L141.26 299.80L141.26 301.10L143.26 303.10L141.26 305.10L141.26 306.40L139.96 306.40L137.96 308.40L135.96 306.40L134.66 306.40L134.66 305.10L132.66 303.10L134.66 301.10L134.66 299.80L135.96 299.80Z"/><path d="M143.30 307.10L145.30 309.10L146.60 309.10L146.60 310.40L148.60 312.40L146.60 314.40L146.60 315.70L145.30 315.70L143.30 317.70L141.30 315.70L140.00 315.70L140.00 314.40L138.00 312.40L140.00 310.40L140.00 309.10L141.30 309.10Z"/><path d="M148.64 306.30L150.64 308.30L151.94 308.30L151.94 309.60L153.94 311.60L151.94 313.60L151.94 314.90L150.64 314.90L148.64 316.90L146.64 314.90L145.34 314.90L145.34 313.60L143.34 311.60L145.34 309.60L145.34 308.30L146.64 308.30Z"/><path d="M153.97 364.60L155.97 366.60L157.28 366.60L157.28 367.90L159.28 369.90L157.28 371.90L157.28 373.20L155.97 373.20L153.97 375.20L151.97 373.20L150.67 373.20L150.67 371.90L148.67 369.90L150.67 367.90L150.67 366.60L151.97 366.60Z"/><path d="M159.31 293.30L161.31 295.30L162.61 295.30L162.61 296.60L164.61 298.60L162.61 300.60L162.61 301.90L161.31 301.90L159.31 303.90L157.31 301.90L156.01 301.90L156.01 300.60L154.01 298.60L156.01 296.60L156.01 295.30L157.31 295.30Z"/><path d="M164.65 301.30L166.65 303.30L167.95 303.30L167.95 304.60L169.95 306.60L167.95 308.60L167.95 309.90L166.65 309.90L164.65 311.90L162.65 309.90L161.35 309.90L161.35 308.60L159.35 306.60L161.35 304.60L161.35 303.30L162.65 303.30Z"/><path d="M169.99 309.30L171.99 311.30L173.29 311.30L173.29 312.60L175.29 314.60L173.29 316.60L173.29 317.90L171.99 317.90L169.99 319.90L167.99 317.90L166.69 317.90L166.69 316.60L164.69 314.60L166.69 312.60L166.69 311.30L167.99 311.30Z"/><path d="M175.33 315.00L177.33 317.00L178.63 317.00L178.63 318.30L180.63 320.30L178.63 322.30L178.63 323.60L177.33 323.60L175.33 325.60L173.33 323.60L172.03 323.60L172.03 322.30L170.03 320.30L172.03 318.30L172.03 317.00L173.33 317.00Z"/><path d="M180.66 298.40L182.66 300.40L183.96 300.40L183.96 301.70L185.96 303.70L183.96 305.70L183.96 307.00L182.66 307.00L180.66 309.00L178.66 307.00L177.36 307.00L177.36 305.70L175.36 303.70L177.36 301.70L177.36 300.40L178.66 300.40Z"/><path d="M186.00 359.70L188.00 361.70L189.30 361.70L189.30 363.00L191.30 365.00L189.30 367.00L189.30 368.30L188.00 368.30L186.00 370.30L184.00 368.30L182.70 368.30L182.70 367.00L180.70 365.00L182.70 363.00L182.70 361.70L184.00 361.70Z"/><path d="M191.34 297.70L193.34 299.70L194.64 299.70L194.64 301.00L196.64 303.00L194.64 305.00L194.64 306.30L193.34 306.30L191.34 308.30L189.34 306.30L188.04 306.30L188.04 305.00L186.04 303.00L188.04 301.00L188.04 299.70L189.34 299.70Z"/><path d="M196.68 361.40L198.68 363.40L199.98 363.40L199.98 364.70L201.98 366.70L199.98 368.70L199.98 370.00L198.68 370.00L196.68 372.00L194.68 370.00L193.38 370.00L193.38 368.70L191.38 366.70L193.38 364.70L193.38 363.40L194.68 363.40Z"/><path d="M207.35 313.60L209.35 315.60L210.65 315.60L210.65 316.90L212.65 318.90L210.65 320.90L210.65 322.20L209.35 322.20L207.35 324.20L205.35 322.20L204.05 322.20L204.05 320.90L202.05 318.90L204.05 316.90L204.05 315.60L205.35 315.60Z"/><path d="M212.69 347.80L214.69 349.80L215.99 349.80L215.99 351.10L217.99 353.10L215.99 355.10L215.99 356.40L214.69 356.40L212.69 358.40L210.69 356.40L209.39 356.40L209.39 355.10L207.39 353.10L209.39 351.10L209.39 349.80L210.69 349.80Z"/><path d="M218.03 361.40L220.03 363.40L221.33 363.40L221.33 364.70L223.33 366.70L221.33 368.70L221.33 370.00L220.03 370.00L218.03 372.00L216.03 370.00L214.72 370.00L214.72 368.70L212.72 366.70L214.72 364.70L214.72 363.40L216.03 363.40Z"/><path d="M223.36 260.50L225.36 262.50L226.66 262.50L226.66 263.80L228.66 265.80L226.66 267.80L226.66 269.10L225.36 269.10L223.36 271.10L221.36 269.10L220.06 269.10L220.06 267.80L218.06 265.80L220.06 263.80L220.06 262.50L221.36 262.50Z"/><path d="M228.70 271.20L230.70 273.20L232.00 273.20L232.00 274.50L234.00 276.50L232.00 278.50L232.00 279.80L230.70 279.80L228.70 281.80L226.70 279.80L225.40 279.80L225.40 278.50L223.40 276.50L225.40 274.50L225.40 273.20L226.70 273.20Z"/><path d="M234.04 340.50L236.04 342.50L237.34 342.50L237.34 343.80L239.34 345.80L237.34 347.80L237.34 349.10L236.04 349.10L234.04 351.10L232.04 349.10L230.74 349.10L230.74 347.80L228.74 345.80L230.74 343.80L230.74 342.50L232.04 342.50Z"/><path d="M239.38 335.90L241.38 337.90L242.68 337.90L242.68 339.20L244.68 341.20L242.68 343.20L242.68 344.50L241.38 344.50L239.38 346.50L237.38 344.50L236.08 344.50L236.08 343.20L234.08 341.20L236.08 339.20L236.08 337.90L237.38 337.90Z"/><path d="M250.05 262.30L252.05 264.30L253.35 264.30L253.35 265.60L255.35 267.60L253.35 269.60L253.35 270.90L252.05 270.90L250.05 272.90L248.05 270.90L246.75 270.90L246.75 269.60L244.75 267.60L246.75 265.60L246.75 264.30L248.05 264.30Z"/><path d="M255.39 331.70L257.39 333.70L258.69 333.70L258.69 335.00L260.69 337.00L258.69 339.00L258.69 340.30L257.39 340.30L255.39 342.30L253.39 340.30L252.09 340.30L252.09 339.00L250.09 337.00L252.09 335.00L252.09 333.70L253.39 333.70Z"/><path d="M260.73 361.40L262.73 363.40L264.03 363.40L264.03 364.70L266.03 366.70L264.03 368.70L264.03 370.00L262.73 370.00L260.73 372.00L258.73 370.00L257.43 370.00L257.43 368.70L255.43 366.70L257.43 364.70L257.43 363.40L258.73 363.40Z"/><path d="M266.06 245.60L268.06 247.60L269.36 247.60L269.36 248.90L271.36 250.90L269.36 252.90L269.36 254.20L268.06 254.20L266.06 256.20L264.06 254.20L262.76 254.20L262.76 252.90L260.76 250.90L262.76 248.90L262.76 247.60L264.06 247.60Z"/><path d="M271.40 284.30L273.40 286.30L274.70 286.30L274.70 287.60L276.70 289.60L274.70 291.60L274.70 292.90L273.40 292.90L271.40 294.90L269.40 292.90L268.10 292.90L268.10 291.60L266.10 289.60L268.10 287.60L268.10 286.30L269.40 286.30Z"/><path d="M276.74 294.00L278.74 296.00L280.04 296.00L280.04 297.30L282.04 299.30L280.04 301.30L280.04 302.60L278.74 302.60L276.74 304.60L274.74 302.60L273.44 302.60L273.44 301.30L271.44 299.30L273.44 297.30L273.44 296.00L274.74 296.00Z"/><path d="M282.07 377.30L284.07 379.30L285.38 379.30L285.38 380.60L287.38 382.60L285.38 384.60L285.38 385.90L284.07 385.90L282.07 387.90L280.07 385.90L278.77 385.90L278.77 384.60L276.77 382.60L278.77 380.60L278.77 379.30L280.07 379.30Z"/><path d="M287.41 264.40L289.41 266.40L290.71 266.40L290.71 267.70L292.71 269.70L290.71 271.70L290.71 273.00L289.41 273.00L287.41 275.00L285.41 273.00L284.11 273.00L284.11 271.70L282.11 269.70L284.11 267.70L284.11 266.40L285.41 266.40Z"/><path d="M292.75 298.40L294.75 300.40L296.05 300.40L296.05 301.70L298.05 303.70L296.05 305.70L296.05 307.00L294.75 307.00L292.75 309.00L290.75 307.00L289.45 307.00L289.45 305.70L287.45 303.70L289.45 301.70L289.45 300.40L290.75 300.40Z"/><path d="M298.09 297.20L300.09 299.20L301.39 299.20L301.39 300.50L303.39 302.50L301.39 304.50L301.39 305.80L300.09 305.80L298.09 307.80L296.09 305.80L294.79 305.80L294.79 304.50L292.79 302.50L294.79 300.50L294.79 299.20L296.09 299.20Z"/><path d="M303.43 362.60L305.43 364.60L306.73 364.60L306.73 365.90L308.73 367.90L306.73 369.90L306.73 371.20L305.43 371.20L303.43 373.20L301.43 371.20L300.12 371.20L300.12 369.90L298.12 367.90L300.12 365.90L300.12 364.60L301.43 364.60Z"/><path d="M308.76 289.20L310.76 291.20L312.06 291.20L312.06 292.50L314.06 294.50L312.06 296.50L312.06 297.80L310.76 297.80L308.76 299.80L306.76 297.80L305.46 297.80L305.46 296.50L303.46 294.50L305.46 292.50L305.46 291.20L306.76 291.20Z"/><path d="M314.10 245.50L316.10 247.50L317.40 247.50L317.40 248.80L319.40 250.80L317.40 252.80L317.40 254.10L316.10 254.10L314.10 256.10L312.10 254.10L310.80 254.10L310.80 252.80L308.80 250.80L310.80 248.80L310.80 247.50L312.10 247.50Z"/><path d="M319.44 297.20L321.44 299.20L322.74 299.20L322.74 300.50L324.74 302.50L322.74 304.50L322.74 305.80L321.44 305.80L319.44 307.80L317.44 305.80L316.14 305.80L316.14 304.50L314.14 302.50L316.14 300.50L316.14 299.20L317.44 299.20Z"/><path d="M324.77 326.30L326.77 328.30L328.07 328.30L328.07 329.60L330.07 331.60L328.07 333.60L328.07 334.90L326.77 334.90L324.77 336.90L322.77 334.90L321.47 334.90L321.47 333.60L319.47 331.60L321.47 329.60L321.47 328.30L322.77 328.30Z"/><path d="M330.11 234.60L332.11 236.60L333.41 236.60L333.41 237.90L335.41 239.90L333.41 241.90L333.41 243.20L332.11 243.20L330.11 245.20L328.11 243.20L326.81 243.20L326.81 241.90L324.81 239.90L326.81 237.90L326.81 236.60L328.11 236.60Z"/><path d="M335.45 262.30L337.45 264.30L338.75 264.30L338.75 265.60L340.75 267.60L338.75 269.60L338.75 270.90L337.45 270.90L335.45 272.90L333.45 270.90L332.15 270.90L332.15 269.60L330.15 267.60L332.15 265.60L332.15 264.30L333.45 264.30Z"/><path d="M346.12 335.50L348.12 337.50L349.43 337.50L349.43 338.80L351.43 340.80L349.43 342.80L349.43 344.10L348.12 344.10L346.12 346.10L344.12 344.10L342.82 344.10L342.82 342.80L340.82 340.80L342.82 338.80L342.82 337.50L344.12 337.50Z"/><path d="M351.46 320.60L353.46 322.60L354.76 322.60L354.76 323.90L356.76 325.90L354.76 327.90L354.76 329.20L353.46 329.20L351.46 331.20L349.46 329.20L348.16 329.20L348.16 327.90L346.16 325.90L348.16 323.90L348.16 322.60L349.46 322.60Z"/><path d="M356.80 344.60L358.80 346.60L360.10 346.60L360.10 347.90L362.10 349.90L360.10 351.90L360.10 353.20L358.80 353.20L356.80 355.20L354.80 353.20L353.50 353.20L353.50 351.90L351.50 349.90L353.50 347.90L353.50 346.60L354.80 346.60Z"/><path d="M362.14 266.80L364.14 268.80L365.44 268.80L365.44 270.10L367.44 272.10L365.44 274.10L365.44 275.40L364.14 275.40L362.14 277.40L360.14 275.40L358.84 275.40L358.84 274.10L356.84 272.10L358.84 270.10L358.84 268.80L360.14 268.80Z"/><path d="M367.48 357.60L369.48 359.60L370.78 359.60L370.78 360.90L372.78 362.90L370.78 364.90L370.78 366.20L369.48 366.20L367.48 368.20L365.48 366.20L364.18 366.20L364.18 364.90L362.18 362.90L364.18 360.90L364.18 359.60L365.48 359.60Z"/><path d="M378.15 255.30L380.15 257.30L381.45 257.30L381.45 258.60L383.45 260.60L381.45 262.60L381.45 263.90L380.15 263.90L378.15 265.90L376.15 263.90L374.85 263.90L374.85 262.60L372.85 260.60L374.85 258.60L374.85 257.30L376.15 257.30Z"/><path d="M383.49 320.30L385.49 322.30L386.79 322.30L386.79 323.60L388.79 325.60L386.79 327.60L386.79 328.90L385.49 328.90L383.49 330.90L381.49 328.90L380.19 328.90L380.19 327.60L378.19 325.60L380.19 323.60L380.19 322.30L381.49 322.30Z"/><path d="M388.82 337.40L390.82 339.40L392.12 339.40L392.12 340.70L394.12 342.70L392.12 344.70L392.12 346.00L390.82 346.00L388.82 348.00L386.82 346.00L385.52 346.00L385.52 344.70L383.52 342.70L385.52 340.70L385.52 339.40L386.82 339.40Z"/><path d="M399.50 302.30L401.50 304.30L402.80 304.30L402.80 305.60L404.80 307.60L402.80 309.60L402.80 310.90L401.50 310.90L399.50 312.90L397.50 310.90L396.20 310.90L396.20 309.60L394.20 307.60L396.20 305.60L396.20 304.30L397.50 304.30Z"/><path d="M404.84 317.50L406.84 319.50L408.14 319.50L408.14 320.80L410.14 322.80L408.14 324.80L408.14 326.10L406.84 326.10L404.84 328.10L402.84 326.10L401.54 326.10L401.54 324.80L399.54 322.80L401.54 320.80L401.54 319.50L402.84 319.50Z"/><path d="M410.18 346.60L412.18 348.60L413.48 348.60L413.48 349.90L415.48 351.90L413.48 353.90L413.48 355.20L412.18 355.20L410.18 357.20L408.18 355.20L406.88 355.20L406.88 353.90L404.88 351.90L406.88 349.90L406.88 348.60L408.18 348.60Z"/><path d="M415.51 280.60L417.51 282.60L418.81 282.60L418.81 283.90L420.81 285.90L418.81 287.90L418.81 289.20L417.51 289.20L415.51 291.20L413.51 289.20L412.21 289.20L412.21 287.90L410.21 285.90L412.21 283.90L412.21 282.60L413.51 282.60Z"/><path d="M420.85 293.40L422.85 295.40L424.15 295.40L424.15 296.70L426.15 298.70L424.15 300.70L424.15 302.00L422.85 302.00L420.85 304.00L418.85 302.00L417.55 302.00L417.55 300.70L415.55 298.70L417.55 296.70L417.55 295.40L418.85 295.40Z"/><path d="M426.19 286.60L428.19 288.60L429.49 288.60L429.49 289.90L431.49 291.90L429.49 293.90L429.49 295.20L428.19 295.20L426.19 297.20L424.19 295.20L422.89 295.20L422.89 293.90L420.89 291.90L422.89 289.90L422.89 288.60L424.19 288.60Z"/><path d="M431.52 364.60L433.52 366.60L434.82 366.60L434.82 367.90L436.82 369.90L434.82 371.90L434.82 373.20L433.52 373.20L431.52 375.20L429.52 373.20L428.22 373.20L428.22 371.90L426.22 369.90L428.22 367.90L428.22 366.60L429.52 366.60Z"/><path d="M436.86 283.30L438.86 285.30L440.16 285.30L440.16 286.60L442.16 288.60L440.16 290.60L440.16 291.90L438.86 291.90L436.86 293.90L434.86 291.90L433.56 291.90L433.56 290.60L431.56 288.60L433.56 286.60L433.56 285.30L434.86 285.30Z"/><path d="M447.54 304.30L449.54 306.30L450.84 306.30L450.84 307.60L452.84 309.60L450.84 311.60L450.84 312.90L449.54 312.90L447.54 314.90L445.54 312.90L444.24 312.90L444.24 311.60L442.24 309.60L444.24 307.60L444.24 306.30L445.54 306.30Z"/><path d="M452.88 357.50L454.88 359.50L456.18 359.50L456.18 360.80L458.18 362.80L456.18 364.80L456.18 366.10L454.88 366.10L452.88 368.10L450.88 366.10L449.57 366.10L449.57 364.80L447.57 362.80L449.57 360.80L449.57 359.50L450.88 359.50Z"/><path d="M463.55 205.70L465.55 207.70L466.85 207.70L466.85 209.00L468.85 211.00L466.85 213.00L466.85 214.30L465.55 214.30L463.55 216.30L461.55 214.30L460.25 214.30L460.25 213.00L458.25 211.00L460.25 209.00L460.25 207.70L461.55 207.70Z"/><path d="M468.89 165.40L470.89 167.40L472.19 167.40L472.19 168.70L474.19 170.70L472.19 172.70L472.19 174.00L470.89 174.00L468.89 176.00L466.89 174.00L465.59 174.00L465.59 172.70L463.59 170.70L465.59 168.70L465.59 167.40L466.89 167.40Z"/><path d="M474.23 368.70L476.23 370.70L477.53 370.70L477.53 372.00L479.53 374.00L477.53 376.00L477.53 377.30L476.23 377.30L474.23 379.30L472.23 377.30L470.93 377.30L470.93 376.00L468.93 374.00L470.93 372.00L470.93 370.70L472.23 370.70Z"/><path d="M479.56 315.50L481.56 317.50L482.86 317.50L482.86 318.80L484.86 320.80L482.86 322.80L482.86 324.10L481.56 324.10L479.56 326.10L477.56 324.10L476.26 324.10L476.26 322.80L474.26 320.80L476.26 318.80L476.26 317.50L477.56 317.50Z"/><path d="M484.90 276.30L486.90 278.30L488.20 278.30L488.20 279.60L490.20 281.60L488.20 283.60L488.20 284.90L486.90 284.90L484.90 286.90L482.90 284.90L481.60 284.90L481.60 283.60L479.60 281.60L481.60 279.60L481.60 278.30L482.90 278.30Z"/><path d="M495.57 350.60L497.57 352.60L498.88 352.60L498.88 353.90L500.88 355.90L498.88 357.90L498.88 359.20L497.57 359.20L495.57 361.20L493.57 359.20L492.27 359.20L492.27 357.90L490.27 355.90L492.27 353.90L492.27 352.60L493.57 352.60Z"/><path d="M500.91 348.40L502.91 350.40L504.21 350.40L504.21 351.70L506.21 353.70L504.21 355.70L504.21 357.00L502.91 357.00L500.91 359.00L498.91 357.00L497.61 357.00L497.61 355.70L495.61 353.70L497.61 351.70L497.61 350.40L498.91 350.40Z"/><path d="M506.25 333.20L508.25 335.20L509.55 335.20L509.55 336.50L511.55 338.50L509.55 340.50L509.55 341.80L508.25 341.80L506.25 343.80L504.25 341.80L502.95 341.80L502.95 340.50L500.95 338.50L502.95 336.50L502.95 335.20L504.25 335.20Z"/><path d="M511.59 330.00L513.59 332.00L514.89 332.00L514.89 333.30L516.89 335.30L514.89 337.30L514.89 338.60L513.59 338.60L511.59 340.60L509.59 338.60L508.29 338.60L508.29 337.30L506.29 335.30L508.29 333.30L508.29 332.00L509.59 332.00Z"/><path d="M516.93 364.60L518.93 366.60L520.23 366.60L520.23 367.90L522.23 369.90L520.23 371.90L520.23 373.20L518.93 373.20L516.93 375.20L514.93 373.20L513.63 373.20L513.63 371.90L511.63 369.90L513.63 367.90L513.63 366.60L514.93 366.60Z"/><path d="M522.26 322.30L524.26 324.30L525.56 324.30L525.56 325.60L527.56 327.60L525.56 329.60L525.56 330.90L524.26 330.90L522.26 332.90L520.26 330.90L518.96 330.90L518.96 329.60L516.96 327.60L518.96 325.60L518.96 324.30L520.26 324.30Z"/><path d="M527.60 306.40L529.60 308.40L530.90 308.40L530.90 309.70L532.90 311.70L530.90 313.70L530.90 315.00L529.60 315.00L527.60 317.00L525.60 315.00L524.30 315.00L524.30 313.70L522.30 311.70L524.30 309.70L524.30 308.40L525.60 308.40Z"/><path d="M532.94 304.20L534.94 306.20L536.24 306.20L536.24 307.50L538.24 309.50L536.24 311.50L536.24 312.80L534.94 312.80L532.94 314.80L530.94 312.80L529.64 312.80L529.64 311.50L527.64 309.50L529.64 307.50L529.64 306.20L530.94 306.20Z"/><path d="M538.28 359.50L540.28 361.50L541.58 361.50L541.58 362.80L543.58 364.80L541.58 366.80L541.58 368.10L540.28 368.10L538.28 370.10L536.28 368.10L534.98 368.10L534.98 366.80L532.98 364.80L534.98 362.80L534.98 361.50L536.28 361.50Z"/><path d="M543.61 277.50L545.61 279.50L546.91 279.50L546.91 280.80L548.91 282.80L546.91 284.80L546.91 286.10L545.61 286.10L543.61 288.10L541.61 286.10L540.31 286.10L540.31 284.80L538.31 282.80L540.31 280.80L540.31 279.50L541.61 279.50Z"/><path d="M554.29 335.30L556.29 337.30L557.59 337.30L557.59 338.60L559.59 340.60L557.59 342.60L557.59 343.90L556.29 343.90L554.29 345.90L552.29 343.90L550.99 343.90L550.99 342.60L548.99 340.60L550.99 338.60L550.99 337.30L552.29 337.30Z"/><path d="M559.62 344.30L561.62 346.30L562.92 346.30L562.92 347.60L564.92 349.60L562.92 351.60L562.92 352.90L561.62 352.90L559.62 354.90L557.62 352.90L556.33 352.90L556.33 351.60L554.33 349.60L556.33 347.60L556.33 346.30L557.62 346.30Z"/><path d="M564.96 330.30L566.96 332.30L568.26 332.30L568.26 333.60L570.26 335.60L568.26 337.60L568.26 338.90L566.96 338.90L564.96 340.90L562.96 338.90L561.66 338.90L561.66 337.60L559.66 335.60L561.66 333.60L561.66 332.30L562.96 332.30Z"/><path d="M570.30 291.90L572.30 293.90L573.60 293.90L573.60 295.20L575.60 297.20L573.60 299.20L573.60 300.50L572.30 300.50L570.30 302.50L568.30 300.50L567.00 300.50L567.00 299.20L565.00 297.20L567.00 295.20L567.00 293.90L568.30 293.90Z"/><path d="M575.64 227.50L577.64 229.50L578.94 229.50L578.94 230.80L580.94 232.80L578.94 234.80L578.94 236.10L577.64 236.10L575.64 238.10L573.64 236.10L572.34 236.10L572.34 234.80L570.34 232.80L572.34 230.80L572.34 229.50L573.64 229.50Z"/><path d="M580.98 351.50L582.98 353.50L584.27 353.50L584.27 354.80L586.27 356.80L584.27 358.80L584.27 360.10L582.98 360.10L580.98 362.10L578.98 360.10L577.68 360.10L577.68 358.80L575.68 356.80L577.68 354.80L577.68 353.50L578.98 353.50Z"/><path d="M586.31 337.60L588.31 339.60L589.61 339.60L589.61 340.90L591.61 342.90L589.61 344.90L589.61 346.20L588.31 346.20L586.31 348.20L584.31 346.20L583.01 346.20L583.01 344.90L581.01 342.90L583.01 340.90L583.01 339.60L584.31 339.60Z"/><path d="M591.65 227.50L593.65 229.50L594.95 229.50L594.95 230.80L596.95 232.80L594.95 234.80L594.95 236.10L593.65 236.10L591.65 238.10L589.65 236.10L588.35 236.10L588.35 234.80L586.35 232.80L588.35 230.80L588.35 229.50L589.65 229.50Z"/><path d="M596.99 262.30L598.99 264.30L600.29 264.30L600.29 265.60L602.29 267.60L600.29 269.60L600.29 270.90L598.99 270.90L596.99 272.90L594.99 270.90L593.69 270.90L593.69 269.60L591.69 267.60L593.69 265.60L593.69 264.30L594.99 264.30Z"/><path d="M602.33 357.60L604.33 359.60L605.62 359.60L605.62 360.90L607.62 362.90L605.62 364.90L605.62 366.20L604.33 366.20L602.33 368.20L600.33 366.20L599.03 366.20L599.03 364.90L597.03 362.90L599.03 360.90L599.03 359.60L600.33 359.60Z"/><path d="M607.66 269.50L609.66 271.50L610.96 271.50L610.96 272.80L612.96 274.80L610.96 276.80L610.96 278.10L609.66 278.10L607.66 280.10L605.66 278.10L604.36 278.10L604.36 276.80L602.36 274.80L604.36 272.80L604.36 271.50L605.66 271.50Z"/><path d="M613.00 255.00L615.00 257.00L616.30 257.00L616.30 258.30L618.30 260.30L616.30 262.30L616.30 263.60L615.00 263.60L613.00 265.60L611.00 263.60L609.70 263.60L609.70 262.30L607.70 260.30L609.70 258.30L609.70 257.00L611.00 257.00Z"/><path d="M618.34 256.50L620.34 258.50L621.64 258.50L621.64 259.80L623.64 261.80L621.64 263.80L621.64 265.10L620.34 265.10L618.34 267.10L616.34 265.10L615.04 265.10L615.04 263.80L613.04 261.80L615.04 259.80L615.04 258.50L616.34 258.50Z"/><path d="M623.68 326.60L625.68 328.60L626.98 328.60L626.98 329.90L628.98 331.90L626.98 333.90L626.98 335.20L625.68 335.20L623.68 337.20L621.68 335.20L620.38 335.20L620.38 333.90L618.38 331.90L620.38 329.90L620.38 328.60L621.68 328.60Z"/><path d="M634.35 295.50L636.35 297.50L637.65 297.50L637.65 298.80L639.65 300.80L637.65 302.80L637.65 304.10L636.35 304.10L634.35 306.10L632.35 304.10L631.05 304.10L631.05 302.80L629.05 300.80L631.05 298.80L631.05 297.50L632.35 297.50Z"/><path d="M639.69 331.70L641.69 333.70L642.99 333.70L642.99 335.00L644.99 337.00L642.99 339.00L642.99 340.30L641.69 340.30L639.69 342.30L637.69 340.30L636.39 340.30L636.39 339.00L634.39 337.00L636.39 335.00L636.39 333.70L637.69 333.70Z"/><path d="M645.02 368.50L647.02 370.50L648.32 370.50L648.32 371.80L650.32 373.80L648.32 375.80L648.32 377.10L647.02 377.10L645.02 379.10L643.02 377.10L641.73 377.10L641.73 375.80L639.73 373.80L641.73 371.80L641.73 370.50L643.02 370.50Z"/><path d="M650.36 328.80L652.36 330.80L653.66 330.80L653.66 332.10L655.66 334.10L653.66 336.10L653.66 337.40L652.36 337.40L650.36 339.40L648.36 337.40L647.06 337.40L647.06 336.10L645.06 334.10L647.06 332.10L647.06 330.80L648.36 330.80Z"/><path d="M655.70 394.50L657.70 396.50L659.00 396.50L659.00 397.80L661.00 399.80L659.00 401.80L659.00 403.10L657.70 403.10L655.70 405.10L653.70 403.10L652.40 403.10L652.40 401.80L650.40 399.80L652.40 397.80L652.40 396.50L653.70 396.50Z"/></g>
<g fill="none" stroke="#d80b52" stroke-width="2"><circle cx="202.01" cy="302.70" r="2.4"/><path d="M197.61 310.10H206.41M202.01 305.70V314.50M198.91 307.00L205.11 313.20M198.91 313.20L205.11 307.00"/><circle cx="244.71" cy="243.40" r="2.4"/><path d="M240.31 246.20H249.11M244.71 241.80V250.60M241.61 243.10L247.81 249.30M241.61 249.30L247.81 243.10"/><circle cx="340.79" cy="333.40" r="2.4"/><path d="M336.39 336.10H345.19M340.79 331.70V340.50M337.69 333.00L343.89 339.20M337.69 339.20L343.89 333.00"/><circle cx="372.81" cy="286.00" r="2.4"/><path d="M368.41 288.10H377.21M372.81 283.70V292.50M369.71 285.00L375.91 291.20M369.71 291.20L375.91 285.00"/><circle cx="394.16" cy="252.30" r="2.4"/><path d="M389.76 254.60H398.56M394.16 250.20V259.00M391.06 251.50L397.26 257.70M391.06 257.70L397.26 251.50"/><circle cx="442.20" cy="273.70" r="2.4"/><path d="M437.80 276.80H446.60M442.20 272.40V281.20M439.10 273.70L445.30 279.90M439.10 279.90L445.30 273.70"/><circle cx="458.21" cy="282.90" r="2.4"/><path d="M453.81 286.70H462.61M458.21 282.30V291.10M455.11 283.60L461.31 289.80M455.11 289.80L461.31 283.60"/><circle cx="490.24" cy="340.40" r="2.4"/><path d="M485.84 343.00H494.64M490.24 338.60V347.40M487.14 339.90L493.34 346.10M487.14 346.10L493.34 339.90"/><circle cx="548.95" cy="336.10" r="2.4"/><path d="M544.55 338.30H553.35M548.95 333.90V342.70M545.85 335.20L552.05 341.40M545.85 341.40L552.05 335.20"/><circle cx="629.01" cy="289.40" r="2.4"/><path d="M624.61 291.60H633.41M629.01 287.20V296.00M625.91 288.50L632.11 294.70M625.91 294.70L632.11 288.50"/></g>
<text x="52" y="405.30" font-size="16" fill="#262626" stroke="#262626" stroke-width="0.3" text-anchor="end">0</text><text x="52" y="350.30" font-size="16" fill="#262626" stroke="#262626" stroke-width="0.3" text-anchor="end">0.5</text><text x="52" y="295.30" font-size="16" fill="#262626" stroke="#262626" stroke-width="0.3" text-anchor="end">1</text><text x="52" y="240.30" font-size="16" fill="#262626" stroke="#262626" stroke-width="0.3" text-anchor="end">1.5</text><text x="52" y="185.30" font-size="16" fill="#262626" stroke="#262626" stroke-width="0.3" text-anchor="end">2</text><text x="52" y="130.30" font-size="16" fill="#262626" stroke="#262626" stroke-width="0.3" text-anchor="end">2.5</text><text x="52" y="76.30" font-size="16" fill="#262626" stroke="#262626" stroke-width="0.3" text-anchor="end">3</text><text x="674.3" y="405.30" font-size="16" fill="#d80b52" stroke="#d80b52" stroke-width="0.3" text-anchor="middle">0</text><text x="674.3" y="350.30" font-size="16" fill="#d80b52" stroke="#d80b52" stroke-width="0.3" text-anchor="middle">30</text><text x="674.3" y="295.30" font-size="16" fill="#d80b52" stroke="#d80b52" stroke-width="0.3" text-anchor="middle">60</text><text x="674.3" y="240.30" font-size="16" fill="#d80b52" stroke="#d80b52" stroke-width="0.3" text-anchor="middle">90</text><text x="674.3" y="185.30" font-size="16" fill="#d80b52" stroke="#d80b52" stroke-width="0.3" text-anchor="middle">120</text><text x="674.3" y="130.30" font-size="16" fill="#d80b52" stroke="#d80b52" stroke-width="0.3" text-anchor="middle">150</text><text x="674.3" y="76.30" font-size="16" fill="#d80b52" stroke="#d80b52" stroke-width="0.3" text-anchor="middle">180</text><text x="58.50" y="420" font-size="16" fill="#262626" stroke="#262626" stroke-width="0.3" text-anchor="middle">02/01</text><text x="164.50" y="420" font-size="16" fill="#262626" stroke="#262626" stroke-width="0.3" text-anchor="middle">02/06</text><text x="271.50" y="420" font-size="16" fill="#262626" stroke="#262626" stroke-width="0.3" text-anchor="middle">02/11</text><text x="378.50" y="420" font-size="16" fill="#262626" stroke="#262626" stroke-width="0.3" text-anchor="middle">02/16</text><text x="485.50" y="420" font-size="16" fill="#262626" stroke="#262626" stroke-width="0.3" text-anchor="middle">02/21</text><text x="591.50" y="420" font-size="16" fill="#262626" stroke="#262626" stroke-width="0.3" text-anchor="middle">02/26</text>
<text x="241.5" y="42" font-size="16" font-weight="bold" fill="#000" textLength="229" lengthAdjust="spacingAndGlyphs">Tropics 5303 / 5320 = 99.680%</text>
<text x="223" y="61.5" font-size="16" font-weight="bold" fill="#000" textLength="267" lengthAdjust="spacingAndGlyphs">ACARS_TEMPERATURE @ 313 hPa</text>
<text x="357" y="441" font-size="16" fill="#262626" stroke="#262626" stroke-width="0.3" text-anchor="middle">Feb.01,2011 00:00:00 start</text>
<text transform="translate(23,234.3) rotate(-90)" font-size="16" fill="#262626" stroke="#262626" stroke-width="0.3" text-anchor="middle" textLength="152" lengthAdjust="spacingAndGlyphs">rmse and totalspread</text>
<text transform="translate(707,234) rotate(-90)" font-size="16" fill="#d80b52" stroke="#d80b52" stroke-width="0.3" text-anchor="middle" textLength="253" lengthAdjust="spacingAndGlyphs"># of obs: o=possible; <tspan font-size="9">∗</tspan>=assimilated</text>
<line x1="397" y1="89.4" x2="427" y2="89.4" stroke="#000" stroke-width="2.6"/><circle cx="412.4" cy="89.5" r="3.5" fill="#000"/>
<line x1="397" y1="109.3" x2="427" y2="109.3" stroke="#008080" stroke-width="2.6"/><rect x="409" y="106" width="7" height="7" rx="2" fill="#008080"/>
<text x="430" y="95.5" font-size="16" fill="#0040ff" stroke="#0040ff" stroke-width="0.3">rmse grand pr = 1.0241</text>
<text x="430" y="114.5" font-size="16" fill="#0040ff" stroke="#0040ff" stroke-width="0.3" textLength="214" lengthAdjust="spacingAndGlyphs">totalspread grand pr = 1.0754</text>
<text x="146" y="458" font-size="8" fill="#000" textLength="505" lengthAdjust="spacingAndGlyphs">data file: /Users/raeder/DAI/ATM_forcXX/CAM6_setup/f.e21.FHIST_BGC.f09_025.CAM6assim.011/Diags_NTrS_2011-02/obs_diag_output.nc</text>
</svg></body></html>
